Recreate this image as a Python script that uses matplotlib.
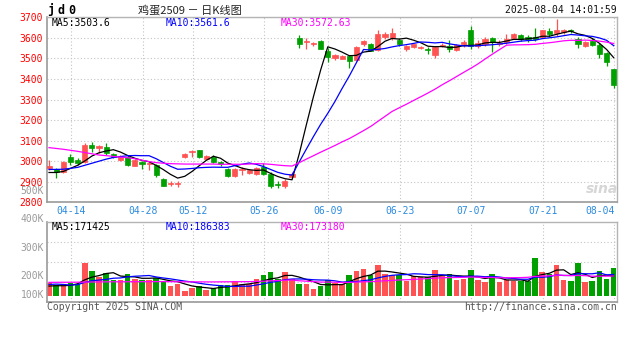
import matplotlib
matplotlib.use("Agg")
import matplotlib.pyplot as plt
import pandas as pd

# jd2509 daily bars, 2025-04-09 .. 2025-08-04
opens = [2965, 2960, 2945, 3018, 3005, 2995, 3077, 3065, 3070, 3035,
         3008, 3020, 2978, 2995, 2985, 2980, 2915, 2888, 2890, 3022,
         3044, 3053, 3013, 3020, 2995, 2960, 2928, 2955, 2942, 2940,
         2972, 2938, 2890, 2878, 2925, 3598, 3580, 3570, 3585, 3538,
         3500, 3498, 3510, 3490, 3568, 3570, 3540, 3605, 3600, 3592,
         3545, 3555, 3552, 3548, 3515, 3558, 3562, 3543, 3568, 3637,
         3560, 3568, 3600, 3568, 3580, 3600, 3615, 3605, 3606, 3606,
         3634, 3626, 3630, 3638, 3595, 3558, 3585, 3565, 3528, 3448]
highs = [3005, 2965, 3000, 3035, 3015, 3087, 3093, 3078, 3090, 3040,
         3030, 3028, 3010, 3002, 2995, 2988, 2920, 2902, 2905, 3040,
         3055, 3056, 3030, 3030, 3000, 2968, 2965, 2972, 2962, 2972,
         2990, 2945, 2905, 2915, 2945, 3614, 3598, 3582, 3590, 3550,
         3522, 3515, 3518, 3562, 3592, 3575, 3636, 3630, 3648, 3598,
         3565, 3572, 3562, 3556, 3560, 3575, 3588, 3568, 3590, 3658,
         3588, 3602, 3605, 3588, 3620, 3622, 3620, 3612, 3647, 3640,
         3647, 3690, 3645, 3642, 3605, 3583, 3600, 3575, 3532, 3450]
lows = [2955, 2918, 2943, 2982, 2980, 2990, 3045, 3040, 3030, 3015,
        3002, 2978, 2975, 2962, 2958, 2925, 2877, 2880, 2873, 3015,
        3018, 3015, 3005, 2990, 2978, 2925, 2925, 2932, 2938, 2935,
        2932, 2872, 2870, 2870, 2918, 3550, 3545, 3560, 3545, 3483,
        3492, 3495, 3455, 3485, 3562, 3535, 3535, 3595, 3590, 3562,
        3535, 3550, 3545, 3522, 3502, 3555, 3533, 3538, 3555, 3548,
        3552, 3562, 3530, 3560, 3572, 3597, 3585, 3582, 3586, 3600,
        3603, 3610, 3620, 3622, 3552, 3555, 3560, 3502, 3465, 3358]
closes = [2975, 2945, 2995, 2995, 2990, 3080, 3065, 3075, 3038, 3022,
          3022, 2982, 3008, 2985, 2990, 2932, 2880, 2892, 2895, 3034,
          3048, 3018, 3025, 2995, 2985, 2930, 2960, 2960, 2958, 2968,
          2940, 2877, 2885, 2905, 2940, 3568, 3586, 3575, 3548, 3505,
          3515, 3510, 3488, 3556, 3585, 3538, 3620, 3618, 3625, 3568,
          3562, 3570, 3557, 3540, 3556, 3566, 3546, 3566, 3578, 3560,
          3577, 3596, 3580, 3575, 3595, 3617, 3594, 3596, 3596, 3636,
          3618, 3640, 3638, 3632, 3570, 3580, 3566, 3520, 3482, 3370]
volumes = [115000, 98000, 98000, 112000, 106000, 285000, 216000, 164000, 201000, 141000,
           141000, 193000, 150000, 141000, 141000, 158000, 129000, 86000, 106000, 43000,
           72000, 83000, 55000, 72000, 92000, 95000, 126000, 106000, 106000, 144000,
           178000, 207000, 150000, 207000, 150000, 104000, 104000, 57000, 83000, 135000,
           115000, 101000, 184000, 216000, 230000, 178000, 265000, 187000, 178000, 184000,
           129000, 172000, 164000, 164000, 222000, 172000, 187000, 135000, 144000, 221570,
           135000, 121000, 187000, 118000, 135000, 129000, 129000, 129000, 331000, 207000,
           187000, 265000, 141000, 126000, 287705, 121000, 126000, 216000, 150125, 244000]

# averages shown before the window holds enough days
ma5_head = [2945, 2945, 2950, 2965]
ma10_head = [2960, 2960, 2961, 2965, 2970, 2980, 2990, 3000, 3010]
ma30_head = [3066, 3062, 3058, 3053, 3048, 3042, 3036, 3030, 3027, 3023,
             3020, 3017, 3012, 3005, 2998, 2993, 2990, 2988, 2987, 2986,
             2986, 2986, 2986, 2986, 2985, 2985, 2985, 2985, 2986]
vol_ma5_head = [86000, 89000, 89000, 92000]
vol_ma10_head = [100000, 103000, 100000, 95000, 98000, 118000, 132000, 138000, 144000]
vol_ma30_head = [118000, 118500, 119000, 119000, 119500, 120000, 121000, 122000, 122500, 123000,
                 123000, 123500, 124000, 124000, 124000, 124500, 124500, 124000, 123500, 123000,
                 122500, 122500, 122000, 122000, 122500, 123000, 123500, 124000, 124500]

date_labels = ["04-14", "04-28", "05-12", "05-26", "06-09", "06-23", "07-07", "07-21", "08-04"]
date_index = [3, 13, 20, 30, 39, 49, 59, 69, 79]
price_ticks = [2800, 2900, 3000, 3100, 3200, 3300, 3400, 3500, 3600, 3700]
vol_labels = ["500K", "400K", "300K", "200K", "100K"]

RED = "#ff5252"
GREEN = "#00a000"
MA_COLORS = ["#000000", "#0000ff", "#ff00ff"]
GRID = dict(color="#c4c4c4", linestyle=(0, (1, 2)), linewidth=0.8)
MONO = "DejaVu Sans Mono"

W, H = 627, 342


def moving_average(values, window, head):
    ma = pd.Series(values, dtype=float).rolling(window).mean().to_numpy()
    ma[:len(head)] = head
    return ma


def box(left, top, right, bottom):
    return [left / W, 1 - bottom / H, (right - left) / W, (bottom - top) / H]


def put(x, y, s, **kw):
    kw.setdefault("family", MONO)
    kw.setdefault("fontsize", 7)
    kw.setdefault("va", "center")
    fig.text(x / W, 1 - y / H, s, **kw)


def style_frame(a):
    for side in ("left", "bottom"):
        a.spines[side].set_color("#9a9a9a")
        a.spines[side].set_linewidth(1.2)
    for side in ("top", "right"):
        a.spines[side].set_color("#b4b4b4")
        a.spines[side].set_linewidth(1.0)
    a.set_axisbelow(True)


idx = list(range(len(closes)))
colors = [RED if c >= o else GREEN for o, c in zip(opens, closes)]

fig = plt.figure(figsize=(W / 100, H / 100), dpi=100)
ax = fig.add_axes(box(47, 17.3, 617, 202.3))
axv = fig.add_axes(box(47, 222, 617, 302.3))

# candles
ax.vlines(idx, lows, highs, colors=colors, linewidth=0.9, zorder=2)
bodies = [max(abs(c - o), 2) for o, c in zip(opens, closes)]
ax.bar(idx, bodies, bottom=[min(o, c) for o, c in zip(opens, closes)], width=0.72,
       color=colors, edgecolor=colors, linewidth=0.5, zorder=3)

price_ma = [moving_average(closes, 5, ma5_head),
            moving_average(closes, 10, ma10_head),
            moving_average(closes, 30, ma30_head)]
for ma, col in zip(price_ma, MA_COLORS):
    ax.plot(idx, ma, color=col, linewidth=0.9, zorder=4)

ax.set_xlim(-0.28, 79.46)
ax.set_ylim(2800, 3700)
ax.set_yticks(price_ticks)
ax.set_yticklabels([str(t) for t in price_ticks], color="#ff0000", family=MONO, fontsize=7)
ax.set_xticks([d + 0.1 for d in date_index])
ax.set_xticklabels(date_labels, color="#2a8ae0", family=MONO, fontsize=7)
ax.xaxis.get_ticklabels()[-1].set_horizontalalignment("right")
ax.tick_params(length=0, pad=3)
ax.tick_params(axis="x", pad=2.5)
ax.grid(True, **GRID)
style_frame(ax)

# volume
axv.bar(idx, volumes, width=0.78, color=colors, linewidth=0, zorder=2)
vol_ma = [moving_average(volumes, 5, vol_ma5_head),
          moving_average(volumes, 10, vol_ma10_head),
          moving_average(volumes, 30, vol_ma30_head)]
for ma, col in zip(vol_ma, MA_COLORS):
    axv.plot(idx, ma, color=col, linewidth=0.9, zorder=3)

vmin, vmax = -54000, 639000
axv.set_xlim(-0.28, 79.46)
axv.set_ylim(vmin, vmax)
axv.set_yticks([vmin + (vmax - vmin) * f for f in (0.25, 0.5, 0.75)])
axv.set_xticks([d + 0.1 for d in date_index])
axv.tick_params(length=0, labelleft=False, labelbottom=False)
axv.grid(True, **GRID)
style_frame(axv)

# header
for x, ch in zip([51, 61, 71.5], "jd0"):
    put(x, 10, ch, fontsize=8.5, fontweight="bold", ha="center")
put(190, 10, "鸡蛋2509 － 日K线图", family=["Noto Sans CJK SC", "DejaVu Sans"],
    fontsize=8, color="#222222", ha="center")
put(617, 10, "2025-08-04 14:01:59", ha="right", color="#111111")

put(51.5, 22.7, "MA5:3503.6", color=MA_COLORS[0])
put(166, 22.7, "MA10:3561.6", color=MA_COLORS[1])
put(281, 22.7, "MA30:3572.63", color=MA_COLORS[2])

put(51.5, 226.7, "MA5:171425", color=MA_COLORS[0])
put(166, 226.7, "MA10:186383", color=MA_COLORS[1])
put(281, 226.7, "MA30:173180", color=MA_COLORS[2])

for lab, y in zip(vol_labels, [191, 219, 248, 276, 295]):
    put(44.3, y, lab, ha="right", color="#9a9a9a")

put(602, 189, "sina", family="DejaVu Sans", fontsize=10, fontweight="bold",
    style="italic", color="#d6d6d6", ha="center")

put(46.7, 307.3, "Copyright 2025 SINA.COM", color="#555555")
put(617, 307.3, "http://finance.sina.com.cn", ha="right", color="#555555")

fig.savefig("out.png", dpi=100, facecolor="white")
